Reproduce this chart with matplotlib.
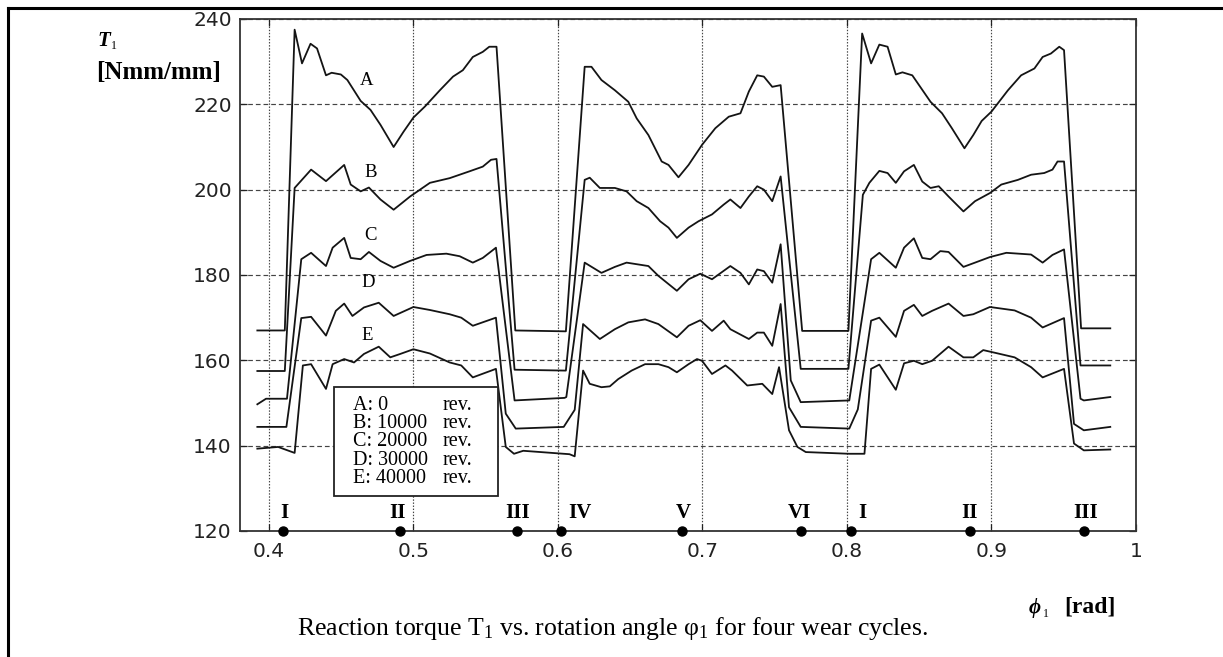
import numpy as np
import matplotlib
matplotlib.use('Agg')
from matplotlib import pyplot as plt
from matplotlib.patches import Rectangle
from matplotlib.lines import Line2D

plt.rcParams['mathtext.fontset'] = 'custom'
plt.rcParams['mathtext.rm'] = 'Liberation Serif'
plt.rcParams['mathtext.default'] = 'regular'

# reaction torque T1 [Nmm/mm] against rotation angle phi1 [rad]
xA = [0.392, 0.411, 0.4178, 0.4229, 0.4288, 0.4333, 0.4395, 0.4434, 0.4498, 0.4543, 0.4635, 0.4703,
      0.4772, 0.4863, 0.4932, 0.5000, 0.5080, 0.5183, 0.5274, 0.5342, 0.5411, 0.5480, 0.5525, 0.5575,
      0.5705, 0.6046, 0.6055, 0.6185, 0.6232, 0.6301, 0.6394, 0.6487, 0.6545, 0.6626, 0.6718, 0.6765,
      0.6834, 0.6904, 0.6997, 0.7089, 0.7182, 0.7263, 0.7321, 0.7379, 0.7425, 0.7483, 0.7541, 0.7690,
      0.8010, 0.8105, 0.8167, 0.8224, 0.8281, 0.8338, 0.8384, 0.8452, 0.8578, 0.8658, 0.8726, 0.8813,
      0.8874, 0.8932, 0.9000, 0.9114, 0.9205, 0.9297, 0.9354, 0.9411, 0.9469, 0.9502, 0.9620, 0.9822]
yA = [167.0, 167.0, 237.5, 229.6, 234.2, 233.1, 226.8, 227.4, 227.0, 225.7, 220.8, 218.7,
      215.2, 210.0, 213.6, 216.9, 219.5, 223.3, 226.5, 228.0, 231.1, 232.3, 233.5, 233.5,
      167.0, 166.8, 166.8, 228.8, 228.8, 225.7, 223.3, 220.6, 216.7, 212.8, 206.6, 205.8,
      202.9, 205.8, 210.5, 214.4, 217.1, 217.9, 223.0, 226.8, 226.5, 224.1, 224.5, 166.9,
      166.9, 236.6, 229.6, 234.0, 233.5, 227.0, 227.5, 226.8, 220.6, 217.9, 214.4, 209.7,
      212.8, 216.1, 218.3, 223.3, 226.8, 228.4, 231.1, 231.9, 233.5, 232.7, 167.5, 167.5]

xB = [0.392, 0.411, 0.4178, 0.4292, 0.4395, 0.4521, 0.4566, 0.4635, 0.4692, 0.4772, 0.4863, 0.4977,
      0.5114, 0.5251, 0.5388, 0.5480, 0.5537, 0.5575, 0.5700, 0.6046, 0.6055, 0.6185, 0.6220, 0.6290,
      0.6394, 0.6475, 0.6545, 0.6626, 0.6707, 0.6765, 0.6823, 0.6904, 0.6973, 0.7066, 0.7147, 0.7193,
      0.7263, 0.7321, 0.7379, 0.7425, 0.7483, 0.7541, 0.7680, 0.8010, 0.8110, 0.8155, 0.8224, 0.8281,
      0.8338, 0.8395, 0.8463, 0.8521, 0.8578, 0.8635, 0.8703, 0.8806, 0.8886, 0.8989, 0.9068, 0.9183,
      0.9274, 0.9365, 0.9422, 0.9457, 0.9502, 0.9616, 0.9822]
yB = [157.5, 157.5, 200.4, 204.7, 202.0, 205.8, 201.2, 199.6, 200.5, 197.7, 195.3, 198.4,
      201.6, 202.7, 204.3, 205.4, 207.0, 207.2, 157.8, 157.6, 157.6, 202.3, 202.8, 200.4,
      200.4, 199.6, 197.3, 195.7, 192.6, 191.1, 188.7, 191.1, 192.6, 194.2, 196.5, 197.7,
      195.7, 198.4, 200.8, 200.0, 197.3, 203.1, 158.0, 158.0, 198.8, 201.6, 204.4, 203.9,
      201.6, 204.3, 205.8, 201.9, 200.4, 200.8, 198.4, 194.9, 197.3, 199.2, 201.2, 202.3,
      203.5, 203.9, 204.7, 206.6, 206.6, 158.8, 158.8]

xC = [0.392, 0.398, 0.4125, 0.4224, 0.4292, 0.4395, 0.4441, 0.4521, 0.4566, 0.4635, 0.4692, 0.4772,
      0.4863, 0.4977, 0.5091, 0.5228, 0.5320, 0.5411, 0.5480, 0.5571, 0.5700, 0.6046, 0.6058, 0.6185,
      0.6301, 0.6394, 0.6475, 0.6626, 0.6695, 0.6823, 0.6904, 0.6985, 0.7066, 0.7193, 0.7263, 0.7321,
      0.7379, 0.7425, 0.7483, 0.7541, 0.7611, 0.7680, 0.8016, 0.8167, 0.8224, 0.8338, 0.8395, 0.8463,
      0.8521, 0.8578, 0.8646, 0.8703, 0.8806, 0.8886, 0.8989, 0.9103, 0.9274, 0.9354, 0.9422, 0.9502,
      0.9616, 0.9639, 0.9822]
yC = [149.7, 151.0, 151.0, 183.7, 185.2, 182.1, 186.4, 188.7, 184.0, 183.7, 185.4, 183.3,
      181.7, 183.3, 184.7, 185.0, 184.4, 182.9, 184.0, 186.4, 150.6, 151.2, 151.4, 182.9,
      180.5, 181.9, 182.9, 182.1, 179.8, 176.3, 179.0, 180.3, 179.0, 182.1, 180.5, 177.8,
      181.3, 180.9, 178.2, 187.2, 155.3, 150.2, 150.6, 183.7, 185.2, 181.7, 186.4, 188.6,
      184.0, 183.7, 185.6, 185.4, 181.9, 182.9, 184.2, 185.2, 184.8, 182.9, 184.7, 186.0,
      151.0, 150.6, 151.4]

xD = [0.392, 0.4121, 0.4224, 0.4292, 0.4395, 0.4463, 0.4521, 0.4578, 0.4658, 0.4760, 0.4863, 0.5000,
      0.5114, 0.5251, 0.5331, 0.5411, 0.5571, 0.5639, 0.5708, 0.6040, 0.6116, 0.6174, 0.6290, 0.6394,
      0.6487, 0.6603, 0.6695, 0.6823, 0.6904, 0.6985, 0.7066, 0.7147, 0.7193, 0.7321, 0.7379, 0.7425,
      0.7483, 0.7541, 0.7599, 0.7680, 0.8016, 0.8075, 0.8167, 0.8224, 0.8338, 0.8395, 0.8463, 0.8521,
      0.8589, 0.8703, 0.8806, 0.8874, 0.8989, 0.9160, 0.9274, 0.9354, 0.9502, 0.9571, 0.9639, 0.9822]
yD = [144.4, 144.4, 169.9, 170.2, 165.8, 171.6, 173.3, 170.4, 172.4, 173.5, 170.4, 172.5,
      171.8, 170.8, 170.0, 168.1, 170.0, 147.5, 144.0, 144.4, 148.4, 168.5, 165.0, 167.3,
      168.9, 169.6, 168.5, 165.4, 168.1, 169.4, 166.9, 169.3, 167.3, 165.0, 166.5, 166.5,
      163.4, 173.2, 149.0, 144.4, 144.0, 148.5, 169.3, 170.0, 165.5, 171.6, 173.0, 170.4,
      171.6, 173.3, 170.4, 170.8, 172.5, 171.7, 170.0, 167.7, 169.9, 145.1, 143.6, 144.4]

xE = [0.392, 0.4064, 0.4178, 0.4235, 0.4292, 0.4395, 0.4441, 0.4521, 0.4589, 0.4658, 0.4760, 0.4840,
      0.4909, 0.5000, 0.5114, 0.5251, 0.5331, 0.5411, 0.5571, 0.5639, 0.5696, 0.5760, 0.6080, 0.6116,
      0.6174, 0.6220, 0.6301, 0.6359, 0.6417, 0.6510, 0.6603, 0.6695, 0.6765, 0.6823, 0.6904, 0.6962,
      0.6997, 0.7066, 0.7159, 0.7205, 0.7310, 0.7414, 0.7483, 0.7530, 0.7599, 0.7657, 0.7715, 0.8016,
      0.8121, 0.8167, 0.8224, 0.8338, 0.8395, 0.8463, 0.8521, 0.8589, 0.8703, 0.8806, 0.8874, 0.8943,
      0.9046, 0.9160, 0.9274, 0.9354, 0.9502, 0.9571, 0.9639, 0.9822]
yE = [139.3, 139.7, 138.3, 158.8, 159.1, 153.3, 159.1, 160.3, 159.5, 161.5, 163.2, 160.7,
      161.5, 162.6, 161.6, 159.5, 158.8, 156.0, 158.0, 139.7, 138.1, 138.8, 138.0, 137.5,
      157.6, 154.5, 153.7, 153.9, 155.6, 157.6, 159.1, 159.1, 158.4, 157.2, 159.1, 160.3,
      159.9, 156.8, 158.8, 157.6, 154.1, 154.5, 152.1, 158.4, 143.6, 139.7, 138.5, 138.1,
      138.1, 158.0, 159.0, 153.1, 159.3, 159.9, 159.1, 159.9, 163.2, 160.7, 160.7, 162.4,
      161.6, 160.7, 158.4, 156.0, 158.0, 140.5, 138.9, 139.1]

curve_names = ['A', 'B', 'C', 'D', 'E']
name_x = [0.4679, 0.4702, 0.4702, 0.4690, 0.4679]
name_y = [225.6, 204.1, 189.3, 178.3, 165.8]

# contact positions marked on the angle axis
mark_x = [0.410, 0.491, 0.572, 0.602, 0.686, 0.768, 0.803, 0.885, 0.964]
mark_label_x = [0.411, 0.489, 0.572, 0.615, 0.687, 0.767, 0.811, 0.885, 0.965]
mark_names = ['I', 'II', 'III', 'IV', 'V', 'VI', 'I', 'II', 'III']

legend_keys = ['A: 0', 'B: 10000', 'C: 20000', 'D: 30000', 'E: 40000']
legend_unit = 'rev.'

xticks = [0.4, 0.5, 0.6, 0.7, 0.8, 0.9, 1.0]
xtick_labels = ['0.4', '0.5', '0.6', '0.7', '0.8', '0.9', '1']
yticks = [120, 140, 160, 180, 200, 220, 240]

W, H = 1223, 657
fig = plt.figure(figsize=(W / 100, H / 100), dpi=100)
fig.patch.set_facecolor('white')
ax = fig.add_axes([240 / W, 1 - 531 / H, (1136 - 240) / W, (531 - 19) / H])

serif = 'Liberation Serif'
sans = 'DejaVu Sans'

for xs, ys in zip([xA, xB, xC, xD, xE], [yA, yB, yC, yD, yE]):
    ax.plot(xs, ys, color='#141414', lw=1.3, zorder=4)

for nm, tx, ty in zip(curve_names, name_x, name_y):
    ax.text(tx, ty, nm, family=serif, fontsize=13.5, ha='center', va='center', zorder=5)

ax.set_xlim(0.38, 1.0)
ax.set_ylim(120, 240)
ax.set_xticks(xticks)
ax.set_xticklabels(xtick_labels)
ax.set_yticks(yticks)
ax.tick_params(direction='in', length=5, width=0.9, top=True, right=True,
               labelsize=14.5, colors='#222222', pad=8)
for lab in ax.get_xticklabels() + ax.get_yticklabels():
    lab.set_family(sans)
ax.tick_params(axis='y', pad=6)

ax.xaxis.grid(True, ls=(0, (1.2, 1.4)), color='#444444', lw=0.85)
ax.yaxis.grid(True, ls=(0, (4, 2.5)), color='#444444', lw=0.85)
ax.set_axisbelow(True)
for sp in ax.spines.values():
    sp.set_linewidth(1.3)
    sp.set_color('#333333')

# contact markers and roman numerals
ax.plot(mark_x, [120] * len(mark_x), 'o', color='black', ms=6.5, clip_on=False, zorder=6)
for lx, nm in zip(mark_label_x, mark_names):
    ax.text(lx, 124.3, nm, family=serif, fontweight='bold', fontsize=15,
            ha='center', va='center', zorder=5)

# legend box
ax.add_patch(Rectangle((0.4448, 128.2), 0.1138, 25.5, facecolor='white',
                       edgecolor='#222222', lw=1.3, zorder=6))
for k, key in enumerate(legend_keys):
    ly = 149.5 - k * 4.3
    ax.text(0.4584, ly, key, family=serif, fontsize=14.5, va='center', zorder=7)
    ax.text(0.5200, ly, legend_unit, family=serif, fontsize=14.5, va='center', zorder=7)

# axis labels, placed like the original
fig.text(97 / W, 1 - 41 / H, 'T', family=serif, fontweight='bold', fontstyle='italic',
         fontsize=15, va='center')
fig.text(111 / W, 1 - 46 / H, '1', family=serif, fontsize=8.5, va='center')
fig.text(96 / W, 1 - 72 / H, '[Nmm/mm]', family=serif, fontweight='bold', fontsize=18,
         va='center')

fig.text(1029 / W, 1 - 608 / H, '\u03d5', family=[serif, 'DejaVu Serif'], fontweight='bold',
         fontstyle='italic', fontsize=15, va='center')
fig.text(1043 / W, 1 - 614 / H, '1', family=serif, fontsize=8.5, va='center')
fig.text(1064 / W, 1 - 607 / H, '[rad]', family=serif, fontweight='bold', fontsize=17,
         va='center')

fig.text(613 / W, 1 - 629 / H, 'Reaction torque T$_1$ vs. rotation angle \u03c6$_1$ for four wear cycles.',
         family=serif, fontsize=18.5, ha='center', va='center')

# page frame
fig.add_artist(Line2D([8 / W, 8 / W], [0, 1 - 8 / H], color='black', lw=2.2))
fig.add_artist(Line2D([8 / W, 1], [1 - 8 / H, 1 - 8 / H], color='black', lw=2.2))

fig.savefig('out.png', dpi=100)
